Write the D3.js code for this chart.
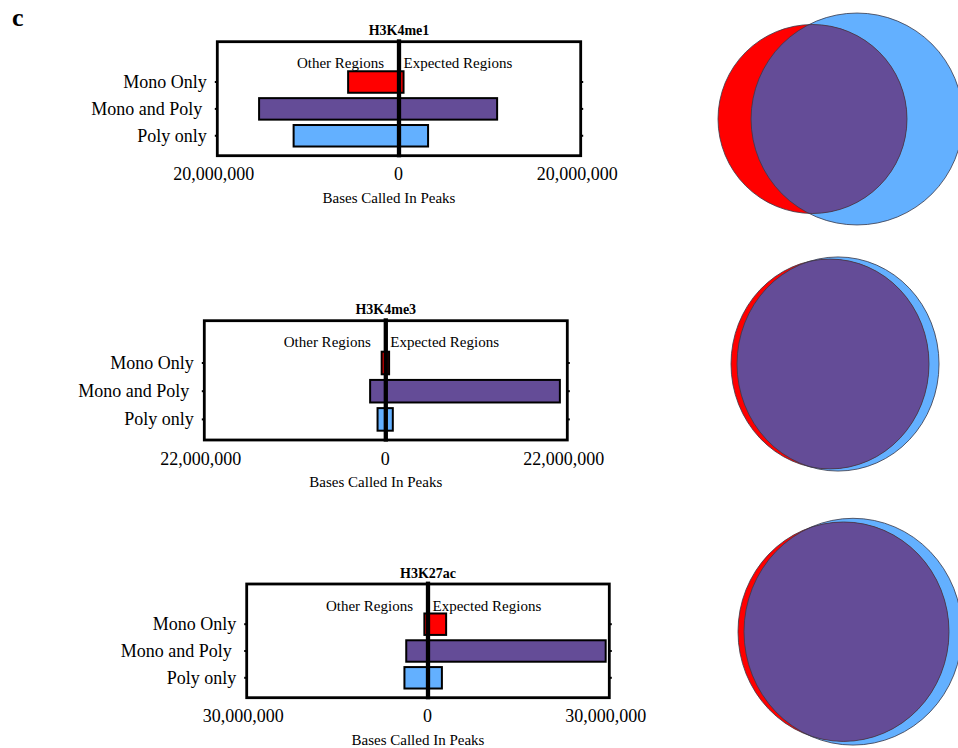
<!DOCTYPE html>
<html><head><meta charset="utf-8">
<script src="https://cdn.jsdelivr.net/npm/d3@7"></script>
<style>
body{margin:0;background:#fff}
text{font-family:"Liberation Serif","Times New Roman",Times,serif}
</style>
</head><body>
<script>
// ---------- data ----------
const categories = ["Mono Only", "Mono and Poly ", "Poly only"];
const marks = ["H3K4me1", "H3K4me3", "H3K27ac"];
const axisMax = [20000000, 22000000, 30000000];
const otherH3K4me1 = [5600000, 15400000, 11600000];
const expectedH3K4me1 = [500000, 10800000, 3200000];
const otherH3K4me3 = [500000, 1900000, 1000000];
const expectedH3K4me3 = [400000, 21100000, 850000];
const otherH3K27ac = [600000, 3600000, 3900000];
const expectedH3K27ac = [3000000, 29400000, 2300000];
// Venn areas (percent of union), per mark
const vennMonoOnly = [13.6, 3.1, 2.6];
const vennShared = [55.2, 90.0, 88.6];
const vennPolyOnly = [31.3, 6.9, 8.8];
const sideLabels = ["Other Regions", "Expected Regions"];
const axisTitle = "Bases Called In Peaks";
const panelLetter = "c";

const otherAll = [otherH3K4me1, otherH3K4me3, otherH3K27ac];
const expectedAll = [expectedH3K4me1, expectedH3K4me3, expectedH3K27ac];

// ---------- styles / layout ----------
const barColors = ["#ff0000", "#644c97", "#63b0ff"];
const vennRed = "#ff0000", vennBlue = "#63b0ff", vennPurple = "#644c97";
const layout = [
  {x0:217.3, x1:580.7, y0:41.7, y1:155.7, vx:812.5, vy:119, vr:94.5, va:1.0},
  {x0:204.3, x1:567.3, y0:320.7, y1:440.0, vx:830, vy:364, vr:99, va:1.06},
  {x0:246.7, x1:609.3, y0:584.0, y1:697.7, vx:843.5, vy:631.7, vr:105.5, va:1.04}
];

const svg = d3.select("body").append("svg")
  .attr("width", 958).attr("height", 748);

svg.append("text").attr("x", 12).attr("y", 26)
  .attr("font-size", 26).attr("font-weight", "bold").text(panelLetter);

function lensArea(r1, r2, d) {
  if (d >= r1 + r2) return 0;
  if (d <= Math.abs(r1 - r2)) return Math.PI * Math.min(r1, r2) ** 2;
  const a = r1*r1*Math.acos((d*d + r1*r1 - r2*r2)/(2*d*r1));
  const b = r2*r2*Math.acos((d*d + r2*r2 - r1*r1)/(2*d*r2));
  const c = 0.5*Math.sqrt((-d+r1+r2)*(d+r1-r2)*(d-r1+r2)*(d+r1+r2));
  return a + b - c;
}
function solveDistance(r1, r2, target) {
  let lo = Math.abs(r1 - r2), hi = r1 + r2;
  for (let i = 0; i < 80; i++) {
    const mid = (lo + hi) / 2;
    if (lensArea(r1, r2, mid) > target) lo = mid; else hi = mid;
  }
  return (lo + hi) / 2;
}

marks.forEach((mark, p) => {
  const L = layout[p];
  const other = otherAll[p], expected = expectedAll[p];
  const rows = categories.map((c, i) => ({cat: c, other: other[i], expected: expected[i], color: barColors[i]}));

  const x = d3.scaleLinear().domain([-axisMax[p], axisMax[p]]).range([L.x0, L.x1]);
  const y = d3.scaleBand().domain(["", ...categories])
    .range([L.y0, L.y1 - 6.5]).paddingInner(0.2).paddingOuter(0.1);
  const g = svg.append("g");

  // frame
  g.append("rect").attr("x", L.x0).attr("y", L.y0)
    .attr("width", L.x1 - L.x0).attr("height", L.y1 - L.y0)
    .attr("fill", "none").attr("stroke", "#000").attr("stroke-width", 2.8);

  // left axis with category labels
  const ax = g.append("g").attr("transform", `translate(${L.x0},0)`)
    .call(d3.axisLeft(y).tickValues(categories).tickSize(2.5).tickPadding(8));
  ax.select(".domain").remove();
  ax.selectAll("line").attr("stroke", "#000").attr("stroke-width", 2);
  ax.selectAll("text").attr("font-size", 18)
    .attr("font-family", '"Liberation Serif","Times New Roman",serif')
    .style("white-space", "pre").attr("fill", "#000");
  const axr = g.append("g").attr("transform", `translate(${L.x1},0)`)
    .call(d3.axisRight(y).tickValues(categories).tickSize(2.5).tickFormat(""));
  axr.select(".domain").remove();
  axr.selectAll("line").attr("stroke", "#000").attr("stroke-width", 2);

  // bottom tick labels
  const axb = g.append("g").attr("transform", `translate(0,${L.y1})`)
    .call(d3.axisBottom(x).tickValues([-axisMax[p], 0, axisMax[p]]).tickSize(0).tickPadding(12)
      .tickFormat(d => d3.format(",")(Math.abs(d))));
  axb.select(".domain").remove();
  axb.selectAll("text").attr("font-size", 18)
    .attr("font-family", '"Liberation Serif","Times New Roman",serif')
    .attr("fill", "#000")
    .attr("dx", d => d === 0 ? -1 : -4);

  // bars
  const bh = y.bandwidth();
  g.selectAll("rect.other").data(rows).join("rect").attr("class", "other")
    .attr("x", d => x(-d.other)).attr("width", d => x(0) - x(-d.other))
    .attr("y", d => y(d.cat)).attr("height", bh)
    .attr("fill", d => d.color).attr("stroke", "#000").attr("stroke-width", 2);
  g.selectAll("rect.expected").data(rows).join("rect").attr("class", "expected")
    .attr("x", x(0)).attr("width", d => x(d.expected) - x(0))
    .attr("y", d => y(d.cat)).attr("height", bh)
    .attr("fill", d => d.color).attr("stroke", "#000").attr("stroke-width", 2);

  // zero line
  g.append("line").attr("x1", x(0)).attr("x2", x(0))
    .attr("y1", L.y0 - 2.4).attr("y2", L.y1 + 1.6)
    .attr("stroke", "#000").attr("stroke-width", 4.3);

  // texts
  g.append("text").attr("x", x(0)).attr("y", L.y0 - 6.3)
    .attr("text-anchor", "middle").attr("font-size", 14).attr("font-weight", "bold").text(mark);
  g.append("text").attr("x", x(0) - 15).attr("y", L.y0 + 26.5)
    .attr("text-anchor", "end").attr("font-size", 15).text(sideLabels[0]);
  g.append("text").attr("x", x(0) + 4.5).attr("y", L.y0 + 26.5)
    .attr("text-anchor", "start").attr("font-size", 15).text(sideLabels[1]);
  g.append("text").attr("x", x(0) - 10).attr("y", L.y1 + 47)
    .attr("text-anchor", "middle").attr("font-size", 15).text(axisTitle);

  // venn (area proportional)
  const monoTotal = vennMonoOnly[p] + vennShared[p];
  const polyTotal = vennShared[p] + vennPolyOnly[p];
  const r = d3.scaleSqrt().domain([0, monoTotal]).range([0, L.vr]);
  const rRed = r(monoTotal), rBlue = r(polyTotal);
  const lens = Math.PI * rRed * rRed * vennShared[p] / monoTotal;
  const dist = solveDistance(rRed, rBlue, lens);
  const cxR = L.vx, cxB = L.vx + dist, cy = L.vy;
  const vg = svg.append("g")
    .attr("transform", `translate(0,${cy}) scale(1,${L.va}) translate(0,${-cy})`);
  const clipId = "clipBlue" + p;
  vg.append("clipPath").attr("id", clipId)
    .append("circle").attr("cx", cxB).attr("cy", cy).attr("r", rBlue);
  vg.append("circle").attr("cx", cxB).attr("cy", cy).attr("r", rBlue).attr("fill", vennBlue);
  vg.append("circle").attr("cx", cxR).attr("cy", cy).attr("r", rRed).attr("fill", vennRed);
  vg.append("circle").attr("cx", cxR).attr("cy", cy).attr("r", rRed)
    .attr("fill", vennPurple).attr("clip-path", `url(#${clipId})`);
  vg.append("circle").attr("cx", cxB).attr("cy", cy).attr("r", rBlue)
    .attr("fill", "none").attr("stroke", "#3a3a4a").attr("stroke-width", 0.8);
  vg.append("circle").attr("cx", cxR).attr("cy", cy).attr("r", rRed)
    .attr("fill", "none").attr("stroke", "#3a3a4a").attr("stroke-width", 0.8);
});
</script>
</body></html>
